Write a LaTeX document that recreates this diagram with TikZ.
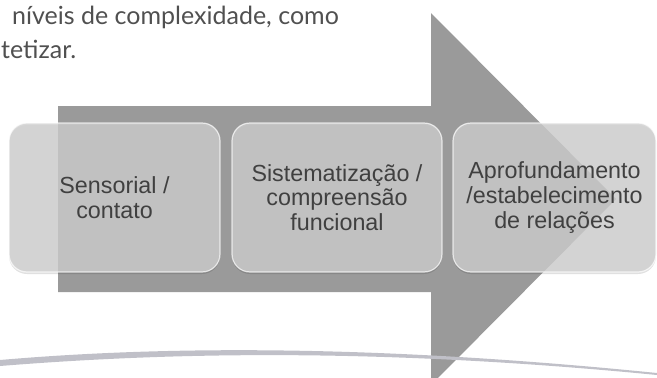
\documentclass[tikz,border=0pt]{standalone}
\usepackage{fontspec}
\setmainfont{Liberation Sans}
\newfontfamily\introfont{Lato}
\newfontfamily\stagefont{Liberation Sans}
\definecolor{arrowgray}{HTML}{9A9A9A}
\definecolor{boxgray}{HTML}{D0D0D0}
\definecolor{textgray}{HTML}{404040}
\definecolor{introgray}{HTML}{505050}
\definecolor{swooshgray}{HTML}{C0C0C8}
\begin{document}
\begin{tikzpicture}[x=1pt, y=-1pt,
    stage/.style={draw=white, draw opacity=0.7, line width=1.2pt, rounded corners=18pt,
        fill=boxgray, fill opacity=0.8, text opacity=1, text=textgray,
        minimum height=149pt, inner sep=0pt, align=center,
        font={\stagefont\fontsize{23.3}{24.8}\selectfont},
        preaction={fill=black, fill opacity=0.12, transform canvas={yshift=-2pt}}},
    intro/.style={anchor=base west, inner sep=0pt, text=introgray,
        font={\introfont\fontsize{25}{30}\selectfont}}
]
    \useasboundingbox (0,0) rectangle (657,378);
    \clip (0,0) rectangle (657,378);

    % Text above the diagram
    \node[intro] (line1) at (12,24) {níveis de complexidade, como};
    \node[intro] (line2) at (1,58) {tetizar.};

    % Big arrow behind the stages
    \fill[arrowgray] (58,106) -- (431,106) -- (431,13) -- (616,199)
        -- (431,385) -- (431,292) -- (58,292) -- cycle;

    % Three stages
    \node[stage, minimum width=211pt] (sens) at (114.5,197.5) {Sensorial /\\contato};
    \node[stage, minimum width=210pt] (sist) at (337,197.5) {Sistematização /\\compreensão\\funcional};
    \node[stage, minimum width=203pt] (aprof) at (554.5,197.5) {Aprofundamento\\/estabelecimento\\de relações};

    % Swoosh at the bottom
    \fill[swooshgray] (0,360) .. controls (150,347) and (360,343) .. (657,373)
        -- (657,375) .. controls (360,346) and (150,354) .. (0,366) -- cycle;
\end{tikzpicture}
\end{document}
